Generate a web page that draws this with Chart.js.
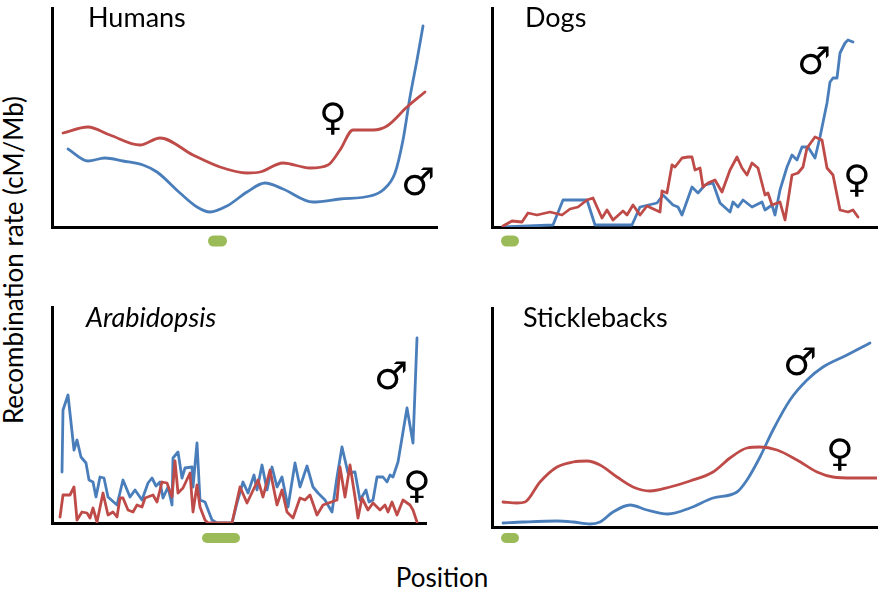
<!DOCTYPE html>
<html><head><meta charset="utf-8">
<script src="https://cdn.jsdelivr.net/npm/chart.js@4"></script>
<style>
html,body{margin:0;padding:0;background:#fff;}
body{width:880px;height:595px;position:relative;overflow:hidden;font-family:Lato,"Open Sans",sans-serif;}
canvas{position:absolute;}
.t{position:absolute;white-space:nowrap;color:#000;line-height:1;}
.sym{position:absolute;white-space:nowrap;color:#000;line-height:1;font-family:"DejaVu Sans",sans-serif;transform:translate(-50%,-50%);}
</style></head><body>
<script>
// ---- data (position, recombination rate), arbitrary units ----
const panelTitles = ["Humans", "Dogs", "Arabidopsis", "Sticklebacks"];
const maleSymbol = "\u2642";
const femaleSymbol = "\u2640";

const humansFemale = [[11,94],[36,100],[58,92],[88,82],[108,89],[141,72],[168,60],[195,54],[208,55],[231,64],[258,59],[276,62],[288,77],[301,97],[321,97],[335,101],[355,120],[373,135]];
const humansMale = [[16,78],[36,66],[53,69],[71,66],[91,62],[105,55],[128,34],[145,20],[158,15],[175,21],[195,35],[213,44],[231,38],[261,25],[288,28],[318,31],[331,37],[343,54],[351,87],[358,130],[365,167],[371,201]];
const humansCentromere = [156,175];

const dogsFemale = [[11,1],[20,6],[30,5],[36,14],[45,12],[58,15],[70,12],[78,18],[86,20],[95,27],[101,29],[105,20],[110,9],[115,17],[121,7],[131,16],[135,12],[141,22],[148,12],[155,21],[168,15],[170,36],[175,34],[180,62],[183,60],[190,69],[196,70],[200,70],[203,57],[208,59],[211,40],[216,44],[223,47],[230,35],[238,57],[245,70],[250,59],[255,52],[260,64],[266,59],[273,32],[276,34],[280,22],[288,25],[293,7],[300,52],[306,54],[311,60],[315,79],[323,90],[330,87],[335,59],[341,52],[348,17],[356,15],[361,17],[366,10]];
const dogsMale = [[11,0],[61,2],[71,27],[95,27],[103,2],[140,2],[148,20],[165,24],[171,32],[181,22],[186,20],[190,12],[200,40],[206,34],[213,42],[221,44],[228,24],[238,15],[241,25],[246,20],[251,27],[260,20],[270,25],[273,17],[280,22],[283,12],[288,37],[295,60],[300,72],[305,67],[310,80],[316,80],[323,69],[328,90],[335,124],[338,145],[341,149],[345,149],[348,174],[353,184],[356,187],[361,185]];
const dogsCentromere = [9,27];

const arabFemale = [[8,6],[11,28],[18,28],[22,36],[25,3],[30,11],[35,10],[38,5],[41,15],[45,1],[51,30],[56,8],[61,11],[65,6],[68,25],[71,25],[76,13],[81,11],[85,18],[90,16],[93,25],[101,28],[105,21],[110,41],[115,40],[120,26],[123,62],[126,30],[131,35],[138,50],[141,11],[145,38],[148,16],[153,3],[156,0],[180,0],[188,36],[195,20],[206,43],[211,26],[218,53],[225,18],[230,33],[235,11],[241,5],[248,25],[253,23],[258,28],[265,8],[271,18],[285,23],[288,56],[293,26],[298,58],[303,26],[306,5],[310,25],[316,13],[321,20],[328,13],[333,18],[336,11],[340,21],[345,8],[351,23],[358,18],[361,13],[365,1]];
const arabMale = [[10,51],[11,113],[16,128],[22,73],[25,83],[29,66],[34,60],[37,43],[41,41],[44,26],[48,46],[52,45],[56,26],[65,18],[71,43],[78,26],[83,33],[90,23],[96,40],[100,45],[104,37],[108,41],[111,25],[116,36],[120,18],[121,65],[126,71],[130,45],[133,55],[140,56],[141,36],[145,80],[148,23],[153,21],[160,3],[165,0],[180,0],[185,20],[191,41],[196,30],[202,48],[205,33],[210,58],[215,33],[220,56],[225,36],[230,46],[236,16],[243,60],[248,36],[255,57],[261,36],[266,30],[273,23],[280,11],[285,46],[290,76],[296,50],[303,51],[308,23],[314,33],[317,21],[321,23],[325,46],[331,46],[335,41],[338,48],[341,46],[346,61],[355,115],[361,80],[365,185]];
const arabCentromere = [150,188];

const sticklebackFemale = [[11,25],[25,24],[33,25],[48,45],[65,60],[81,65],[95,66],[108,62],[125,50],[141,40],[158,36],[178,40],[198,46],[221,55],[238,69],[255,79],[268,80],[285,77],[305,67],[325,55],[341,50],[361,49],[385,49]];
const sticklebackMale = [[11,4],[31,5],[65,6],[81,5],[98,3],[108,5],[121,15],[138,22],[155,17],[176,13],[198,19],[221,29],[245,35],[255,47],[268,70],[281,97],[298,127],[315,147],[331,160],[355,172],[378,184]];
const sticklebackCentromere = [9,27];

const axisMax = [[385,219],[385,219],[374,216],[385,219]];

// ---- layout / style ----
const BLUE = "#4A7EBB", RED = "#BE4B48", GREEN = "#9BBB59";
const PAD = 14, PADB = 30;
const layout = [
  {left:52, top:8, w:385, h:219, barOff:14, barH:11, smooth:true,
   title:{x:88, y:3, italic:false}, male:[418,182], female:[333,117]},
  {left:492, top:8, w:385, h:219, barOff:14, barH:11, smooth:false,
   title:{x:525, y:3, italic:false}, male:[814,61], female:[857,179]},
  {left:52, top:307, w:374, h:216, barOff:15, barH:10, smooth:false,
   title:{x:86, y:303, italic:true}, male:[391,376], female:[417,485]},
  {left:492, top:308, w:385, h:219, barOff:11, barH:10, smooth:true,
   title:{x:523, y:303, italic:false}, male:[800,362], female:[840,453]}
];
const series = [
  [humansMale, humansFemale, humansCentromere],
  [dogsMale, dogsFemale, dogsCentromere],
  [arabMale, arabFemale, arabCentromere],
  [sticklebackMale, sticklebackFemale, sticklebackCentromere]
];

const centromerePlugin = {
  id:'centromere',
  afterDraw(chart, args, opts){
    const {ctx, chartArea} = chart;
    const xs = chart.scales.x;
    const x0 = xs.getPixelForValue(opts.range[0]);
    const x1 = xs.getPixelForValue(opts.range[1]);
    const y = chartArea.bottom + opts.offset - opts.height/2;
    ctx.save();
    ctx.fillStyle = GREEN;
    ctx.beginPath();
    ctx.roundRect(x0, y, x1 - x0, opts.height, opts.height/2);
    ctx.fill();
    ctx.restore();
  }
};

const axisOpts = (max) => ({
  type:'linear', min:0, max:max,
  ticks:{display:false},
  grid:{display:false, drawTicks:false},
  border:{display:true, color:'#000', width:3}
});

layout.forEach((L, i) => {
  const [male, female, cen] = series[i];
  const cv = document.createElement('canvas');
  cv.width = L.w + 2*PAD; cv.height = L.h + PAD + PADB;
  cv.style.left = (L.left - PAD) + 'px';
  cv.style.top = (L.top - PAD) + 'px';
  cv.style.width = cv.width + 'px'; cv.style.height = cv.height + 'px';
  document.body.appendChild(cv);
  const mk = (arr, color, label) => ({
    label, data: arr.map(([x,y]) => ({x, y})),
    borderColor: color, borderWidth: 2.8, pointRadius: 0, fill: false,
    cubicInterpolationMode: L.smooth ? 'monotone' : 'default', tension: 0,
    borderJoinStyle: 'round', borderCapStyle: 'round'
  });
  new Chart(cv, {
    type:'line',
    data:{datasets:[mk(female, RED, 'Female'), mk(male, BLUE, 'Male')]},
    options:{
      responsive:false, animation:false, events:[], devicePixelRatio:1,
      layout:{padding:{left:PAD, right:PAD, top:PAD, bottom:PADB}},
      plugins:{legend:{display:false}, tooltip:{enabled:false}, title:{display:false},
        centromere:{range:cen, offset:L.barOff, height:L.barH}},
      scales:{x:axisOpts(axisMax[i][0]), y:axisOpts(axisMax[i][1])}
    },
    plugins:[centromerePlugin]
  });
  const t = document.createElement('div');
  t.className = 't';
  t.textContent = panelTitles[i];
  t.style.left = L.title.x + 'px'; t.style.top = L.title.y + 'px';
  t.style.fontSize = '27px';
  if (L.title.italic) t.style.fontStyle = 'italic';
  document.body.appendChild(t);
  [[maleSymbol, L.male],[femaleSymbol, L.female]].forEach(([s,p]) => {
    const d = document.createElement('div');
    d.className = 'sym'; d.textContent = s;
    d.style.left = p[0] + 'px'; d.style.top = p[1] + 'px';
    d.style.fontSize = '38px';
    document.body.appendChild(d);
  });
});

const yl = document.createElement('div');
yl.className = 't'; yl.textContent = 'Recombination rate (cM/Mb)';
yl.style.fontSize = '26px';
yl.style.left = '13px'; yl.style.top = '260px';
yl.style.transform = 'translate(-50%,-50%) rotate(-90deg)';
document.body.appendChild(yl);

const xl = document.createElement('div');
xl.className = 't'; xl.textContent = 'Position';
xl.style.fontSize = '26px';
xl.style.left = '442px'; xl.style.top = '577px';
xl.style.transform = 'translate(-50%,-50%)';
document.body.appendChild(xl);
</script>
</body></html>
